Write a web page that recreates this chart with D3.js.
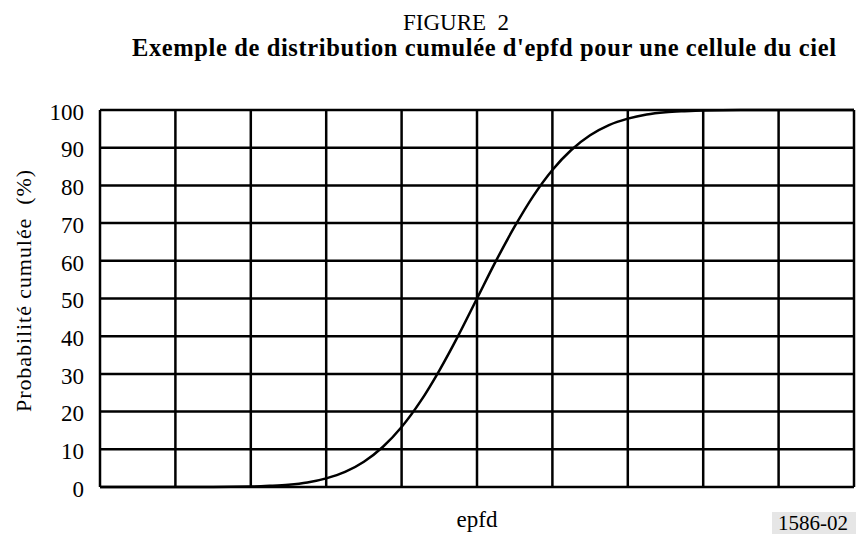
<!DOCTYPE html>
<html>
<head>
<meta charset="utf-8">
<script src="https://cdn.jsdelivr.net/npm/d3@7/dist/d3.min.js"></script>
<style>
  html, body { margin: 0; padding: 0; background: #fff; }
  svg { display: block; }
</style>
</head>
<body>
<svg id="chart" width="858" height="536"></svg>
<script>
// epfd (in grid steps along the abscissa) and cumulative probability (%)
const epfdSteps = [0, 1, 1.5, 2.0, 2.25, 2.5, 2.75, 3.0, 3.25, 3.5, 3.75, 4.0, 4.25, 4.5, 4.75, 5.0,
  5.25, 5.5, 5.75, 6.0, 6.25, 6.5, 6.75, 7.0, 7.25, 7.5, 7.75, 8.0, 8.5, 10];
const cumulativePct = [0, 0, 0, 0.1, 0.3, 0.6, 1.2, 2.3, 4.0, 6.7, 10.6, 15.9, 22.7, 30.9, 40.1, 50,
  59.9, 69.1, 77.3, 84.1, 89.4, 93.3, 96.0, 97.7, 98.8, 99.4, 99.7, 99.9, 100, 100];
const yTicks = [0, 10, 20, 30, 40, 50, 60, 70, 80, 90, 100];
const xGrid = [0, 1, 2, 3, 4, 5, 6, 7, 8, 9, 10];

const titleText = "FIGURE  2";
const subtitleText = "Exemple de distribution cumulée d'epfd pour une cellule du ciel";
const yLabelText = "Probabilité cumulée  (%)";
const xLabelText = "epfd";
const refText = "1586-02";

const SERIF = '"Liberation Serif", "Times New Roman", Times, "DejaVu Serif", serif';

const svg = d3.select("#chart");
const m = { left: 100, right: 854, top: 110, bottom: 487 };

const x = d3.scaleLinear().domain([0, 10]).range([m.left, m.right]);
const y = d3.scaleLinear().domain([0, 100]).range([m.bottom, m.top]);

function label(sel) {
  return sel.attr("font-family", SERIF).style("font-family", SERIF)
    .attr("fill", "#000").style("white-space", "pre");
}

// Titles
label(svg.append("text")).attr("x", 456).attr("y", 30).attr("text-anchor", "middle")
  .attr("font-size", 23).text(titleText);
label(svg.append("text")).attr("x", 132).attr("y", 56).attr("text-anchor", "start")
  .attr("font-size", 24.5).attr("font-weight", "bold")
  .attr("textLength", 704).attr("lengthAdjust", "spacing").text(subtitleText);

// Grid
const g = svg.append("g");
g.selectAll("line.h").data(yTicks).join("line")
  .attr("x1", m.left).attr("x2", m.right)
  .attr("y1", d => y(d)).attr("y2", d => y(d))
  .attr("stroke", "#000").attr("stroke-width", 2.5);
g.selectAll("line.v").data(xGrid).join("line")
  .attr("y1", m.top).attr("y2", m.bottom)
  .attr("x1", d => x(d)).attr("x2", d => x(d))
  .attr("stroke", "#000").attr("stroke-width", 2.5);

// Y axis tick labels
const yAxis = d3.axisLeft(y).tickValues(yTicks).tickSize(0).tickPadding(16);
const ya = svg.append("g").attr("transform", `translate(${m.left},0)`).call(yAxis);
ya.attr("font-family", SERIF).attr("font-size", 23);
ya.select(".domain").remove();
label(ya.selectAll("text")).attr("font-size", 23).attr("dy", "0.4em");

// Curve
const pts = epfdSteps.map((d, i) => [d, cumulativePct[i]]);
svg.append("path").datum(pts)
  .attr("fill", "none").attr("stroke", "#000").attr("stroke-width", 2.5)
  .attr("stroke-linejoin", "round")
  .attr("d", d3.line().x(d => x(d[0])).y(d => y(d[1])).curve(d3.curveMonotoneX));

// Axis labels
label(svg.append("text"))
  .attr("transform", `translate(31,${(170 + 412) / 2}) rotate(-90)`)
  .attr("text-anchor", "middle").attr("font-size", 22)
  .attr("textLength", 242).attr("lengthAdjust", "spacing").text(yLabelText);
label(svg.append("text")).attr("x", x(5)).attr("y", 527).attr("text-anchor", "middle")
  .attr("font-size", 23).text(xLabelText);

// Reference number
svg.append("rect").attr("x", 772).attr("y", 512).attr("width", 84).attr("height", 22).attr("fill", "#e6e6e6");
label(svg.append("text")).attr("x", 813).attr("y", 530).attr("text-anchor", "middle")
  .attr("font-size", 21).text(refText);
</script>
</body>
</html>
